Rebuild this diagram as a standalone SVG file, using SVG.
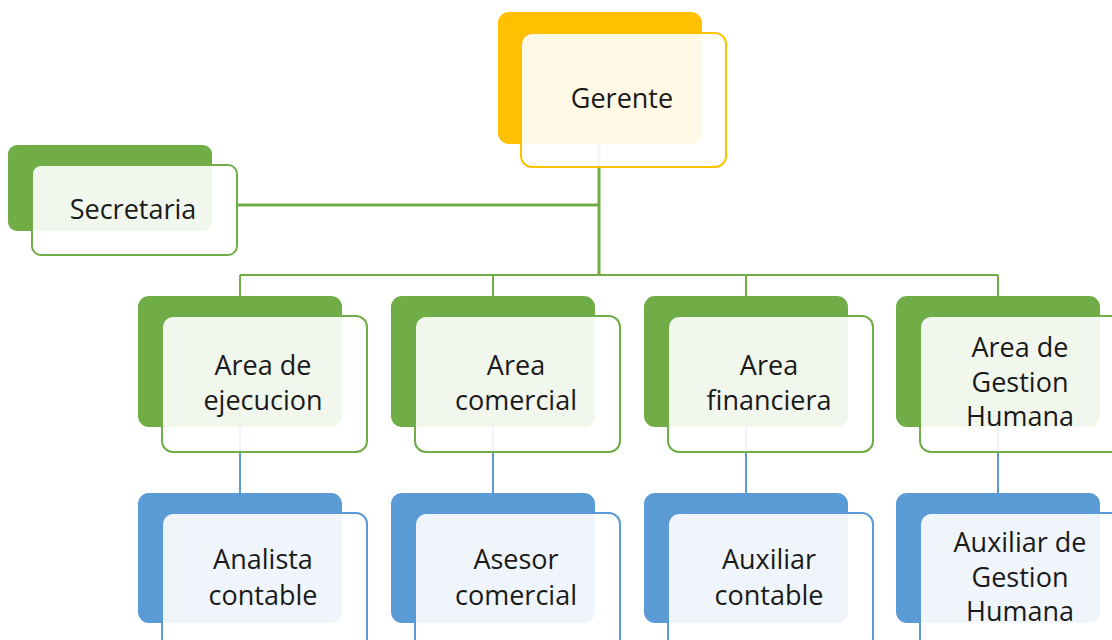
<svg xmlns="http://www.w3.org/2000/svg" width="1112" height="640" viewBox="0 0 1112 640">
<style>
.bg{fill:#fff}
.yb{fill:#FFC000}
.gb{fill:#70AD47}
.bb{fill:#5B9BD5}
.f{fill:#fff;fill-opacity:0.9;stroke-width:2}
.yf{stroke:#FFC000}
.gf{stroke:#70AD47}
.bf{stroke:#5B9BD5}
text{font-family:"Open Sans","Liberation Sans",sans-serif;font-size:27px;fill:#1a1a1a;text-anchor:middle}
.g{stroke:#70AD47;fill:none}
.b{stroke:#5B9BD5;fill:none}
</style>
<rect class="bg" width="1112" height="640"/>
<g id="connectors">
<line class="g" x1="599" y1="144" x2="599" y2="276" stroke-width="3"/>
<line class="g" x1="237" y1="205" x2="599" y2="205" stroke-width="3"/>
<line class="g" x1="240" y1="275" x2="998" y2="275" stroke-width="2"/>
<line class="g" x1="240" y1="275" x2="240" y2="296" stroke-width="2"/>
<line class="g" x1="493" y1="275" x2="493" y2="296" stroke-width="2"/>
<line class="g" x1="746" y1="275" x2="746" y2="296" stroke-width="2"/>
<line class="g" x1="998" y1="275" x2="998" y2="296" stroke-width="2"/>
<line class="b" x1="240" y1="427" x2="240" y2="493" stroke-width="2"/>
<line class="b" x1="493" y1="427" x2="493" y2="493" stroke-width="2"/>
<line class="b" x1="746" y1="427" x2="746" y2="493" stroke-width="2"/>
<line class="b" x1="998" y1="427" x2="998" y2="493" stroke-width="2"/>
</g>
<g id="gerente">
<rect class="yb" x="498" y="12" width="204" height="132" rx="11"/>
<rect class="f yf" x="521" y="33" width="205" height="134" rx="11"/>
<text x="622" y="108">Gerente</text>
</g>
<g id="secretaria">
<rect class="gb" x="8" y="145" width="204" height="86" rx="9"/>
<rect class="f gf" x="32" y="165" width="205" height="90" rx="9"/>
<text x="133" y="219">Secretaria</text>
</g>
<g id="area-ejecucion">
<rect class="gb" x="138" y="296" width="204" height="131" rx="11"/>
<rect class="f gf" x="162" y="316" width="205" height="136" rx="11"/>
<text x="263" y="375">Area de</text>
<text x="263" y="410">ejecucion</text>
</g>
<g id="area-comercial">
<rect class="gb" x="391" y="296" width="204" height="131" rx="11"/>
<rect class="f gf" x="415" y="316" width="205" height="136" rx="11"/>
<text x="516" y="375">Area</text>
<text x="516" y="410">comercial</text>
</g>
<g id="area-financiera">
<rect class="gb" x="644" y="296" width="204" height="131" rx="11"/>
<rect class="f gf" x="668" y="316" width="205" height="136" rx="11"/>
<text x="769" y="375">Area</text>
<text x="769" y="410">financiera</text>
</g>
<g id="area-gestion-humana">
<rect class="gb" x="896" y="296" width="204" height="131" rx="11"/>
<rect class="f gf" x="920" y="316" width="205" height="136" rx="11"/>
<text x="1020" y="357">Area de</text>
<text x="1020" y="392">Gestion</text>
<text x="1020" y="426">Humana</text>
</g>
<g id="analista-contable">
<rect class="bb" x="138" y="493" width="204" height="130" rx="11"/>
<rect class="f bf" x="162" y="513" width="205" height="136" rx="11"/>
<text x="263" y="569">Analista</text>
<text x="263" y="605">contable</text>
</g>
<g id="asesor-comercial">
<rect class="bb" x="391" y="493" width="204" height="130" rx="11"/>
<rect class="f bf" x="415" y="513" width="205" height="136" rx="11"/>
<text x="516" y="569">Asesor</text>
<text x="516" y="605">comercial</text>
</g>
<g id="auxiliar-contable">
<rect class="bb" x="644" y="493" width="204" height="130" rx="11"/>
<rect class="f bf" x="668" y="513" width="205" height="136" rx="11"/>
<text x="769" y="569">Auxiliar</text>
<text x="769" y="605">contable</text>
</g>
<g id="auxiliar-gestion-humana">
<rect class="bb" x="896" y="493" width="204" height="130" rx="11"/>
<rect class="f bf" x="920" y="513" width="205" height="136" rx="11"/>
<text x="1020" y="552">Auxiliar de</text>
<text x="1020" y="587">Gestion</text>
<text x="1020" y="621">Humana</text>
</g>
</svg>
